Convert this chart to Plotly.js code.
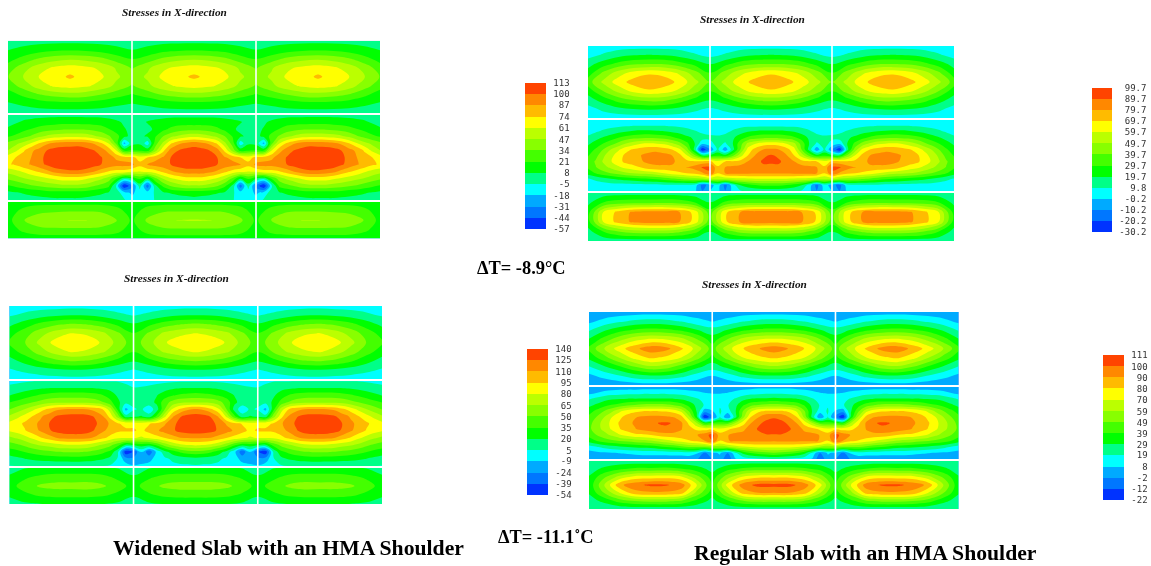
<!DOCTYPE html>
<html><head><meta charset="utf-8">
<script src="https://cdn.plot.ly/plotly-3.0.1.min.js"></script>
<style>html,body{margin:0;padding:0;background:#fff}#plot{width:1151px;height:566px;filter:blur(0.35px)}#plot .contourlayer{filter:blur(0.6px)}</style>
</head><body><div id="plot"></div>
<script>
// Band colours, lowest to highest
const bandColors=['#0033ff','#0077ff','#00aaff','#00ffff','#00ff88','#00ff00','#44ff00','#88ff00','#bbff00','#ffff00','#ffbb00','#ff8800','#ff4400'];

// Colour-bar levels (stress)
const p1Levels=[-57,-44,-31,-18,-5,8,21,34,47,61,74,87,100,113];
const p2Levels=[-30.2,-20.2,-10.2,-0.2,9.8,19.7,29.7,39.7,49.7,59.7,69.7,79.7,89.7,99.7];
const p3Levels=[-54,-39,-24,-9,5,20,35,50,65,80,95,110,125,140];
const p4Levels=[-22,-12,-2,8,19,29,39,49,59,70,80,90,100,111];

// Stress: outer edge to centre of the panel (the panel mirrors about its centre)
const p1Top=[
[3,4,4,4,4,4,4,4,3,4,4,4,4],
[8,11,15,18,19,18,15,11,8,11,16,18,19],
[16,26,36,42,45,43,38,28,21,27,37,43,45],
[28,42,55,63,67,64,58,46,33,45,58,64,67],
[34,48,61,68,76,68,63,50,40,50,64,70,76],
[27,40,54,63,66,63,56,44,33,44,56,63,66],
[14,24,33,39,42,40,34,26,20,26,35,40,42],
[7,10,13,15,16,15,13,10,8,10,13,15,16],
[3,3,3,3,3,3,3,3,3,3,3,3,3]];
const p1Mid=[
[3,4,4,4,4,5,5,5,5,5,5,5,5,4,4,4,4,4,4,4,5,5,5,5,5],
[5,7,10,12,14,15,16,17,17,17,16,16,15,13,10,7,5,6,9,11,12,14,15,15,15],
[10,14,18,22,26,29,31,33,33,33,33,31,28,22,15,9,6,5,6,10,18,24,28,30,30],
[20,24,30,36,44,50,54,56,57,57,55,50,44,36,26,12,4,6,10,20,34,44,50,55,57],
[38,44,52,62,74,84,90,92,93,94,92,86,76,60,30,-22,4,6,-12,28,50,72,84,90,93],
[48,58,72,84,92,100,105,107,107,108,105,101,94,82,60,18,22,20,16,42,70,92,100,104,106],
[68,74,80,87,96,103,109,112,112,112,111,106,101,93,84,80,78,68,74,82,88,100,107,111,112],
[72,76,83,88,95,102,109,111,111,111,110,105,100,96,92,92,90,78,88,92,95,100,106,108,108],
[52,56,62,69,75,82,90,94,97,97,94,88,80,72,68,68,62,60,64,68,76,84,90,94,94],
[36,40,46,50,54,58,62,66,66,66,62,56,50,40,22,-2,8,22,6,30,48,58,64,68,68],
[20,24,28,33,36,40,42,44,44,44,42,36,30,24,-8,-57,-35,2,-38,5,24,36,42,46,46],
[5,7,9,11,12,14,15,15,15,15,14,12,10,7,2,-12,-20,-12,-12,-3,6,9,11,12,13],
[3,3,4,4,5,5,6,6,6,6,5,4,3,2,1,-3,-14,-14,-9,-4,0,2,3,4,5]];
const p1Bottom=[
[10,14,16,16,16,16,16,15,10,15,16,16,16],
[14,26,31,33,34,34,33,27,15,28,33,34,34],
[17,34,43,46,48,48,45,36,19,37,46,48,49],
[14,25,31,32,32,32,31,27,15,28,32,33,33],
[10,13,15,15,15,15,15,14,10,14,15,15,15]];

const p2Top=[
[3,4,5,5,5,5,5,4,3,4,5,5,5],
[6,11,16,19,20,19,16,11,7,11,16,19,20],
[16,25,33,38,40,39,34,27,19,27,35,39,40],
[24,42,55,64,68,66,58,44,30,44,57,65,68],
[35,52,65,74,78,75,67,53,40,53,66,73,78],
[24,40,53,63,68,65,57,44,30,44,56,65,68],
[15,24,34,40,43,42,35,26,20,26,35,41,43],
[6,12,17,20,21,20,17,12,8,12,17,20,21],
[3,4,4,4,4,4,4,4,3,4,4,4,4]];
const p2Mid=[
[3,3,3,4,4,4,4,4,4,4,4,4,4,4,4,3,3,3,3,3,4,4,4,4,4],
[3,4,6,7,8,9,10,10,10,10,10,9,8,7,5,4,3,3,4,5,7,8,8,8,8],
[6,9,12,15,18,20,22,23,23,22,21,19,17,14,11,8,7,6,7,12,16,20,22,23,23],
[12,16,21,25,30,34,37,38,39,38,36,32,27,22,18,14,12,12,15,18,26,32,35,38,38],
[18,24,30,36,43,50,56,60,61,60,58,52,44,32,20,2,6,14,8,20,36,53,60,65,66],
[24,31,40,50,58,67,71,74,76,77,74,70,62,44,16,-29,-10,12,-7,16,40,64,74,80,82],
[29,36,48,56,66,72,76,80,83,84,83,80,73,60,42,20,22,28,24,38,56,70,81,88,91],
[33,41,51,59,66,73,76,79,82,84,84,82,76,72,71,72,72,62,70,71,73,80,87,91,92],
[31,39,46,52,58,63,66,70,76,77,77,78,79,80,84,91,92,72,80,82,84,85,86,88,86],
[24,30,36,40,44,48,50,52,53,56,60,64,67,70,72,78,88,70,80,82,82,82,81,81,81],
[8,12,15,18,21,23,25,27,28,30,33,36,39,42,44,46,50,50,52,54,56,57,58,58,58],
[3,4,5,6,6,6,6,6,7,7,8,8,8,8,6,-14,-6,6,-14,6,20,26,30,32,32],
[1,1,2,2,2,2,2,2,2,2,2,2,2,2,2,-10,0,3,-10,3,9,11,12,13,13]];
const p2Bottom=[
[10,14,15,15,15,15,15,14,10,14,15,15,15],
[17,30,35,37,37,38,36,30,20,32,37,38,38],
[26,60,73,82,84,84,80,66,34,68,80,85,85],
[26,60,74,82,84,84,80,66,34,68,81,85,84],
[16,30,40,45,46,46,42,33,20,34,44,47,47],
[10,13,14,14,14,14,14,13,10,13,14,14,14]];

const p3Top=[
[-2,-2,-1,-1,0,0,-1,-2,-3,-2,-1,0,0],
[4,9,14,18,20,19,15,9,5,9,15,19,20],
[17,28,40,48,52,50,43,32,22,32,43,50,53],
[30,44,60,73,81,78,69,53,36,53,69,77,81],
[38,50,70,86,92,90,78,60,42,60,79,88,92],
[28,42,58,73,82,78,68,52,36,52,68,77,82],
[15,26,38,47,52,50,42,31,22,31,42,49,52],
[4,9,14,18,20,19,15,9,5,9,15,19,20],
[-3,-2,-1,0,1,1,0,-1,-3,-1,0,1,1]];
const p3Mid=[
[3,3,4,5,5,5,5,5,5,5,5,5,5,5,5,4,3,0,0,1,2,3,4,4,4],
[8,11,14,17,19,20,21,21,21,21,21,20,18,16,12,8,6,7,9,12,15,18,20,21,21],
[20,24,29,33,37,40,43,44,44,44,43,41,36,28,18,12,10,12,14,20,28,34,38,40,42],
[35,39,44,50,55,60,62,62,62,62,62,58,52,40,24,10,10,14,14,24,44,55,62,64,64],
[50,58,66,76,88,98,107,110,112,112,110,105,96,72,30,-14,4,8,-4,14,50,82,98,108,112],
[68,76,86,96,108,116,126,130,131,131,130,124,112,90,58,12,18,22,12,40,76,108,124,130,132],
[84,90,98,106,113,124,132,137,138,138,137,128,118,108,96,92,92,88,94,100,108,120,130,136,138],
[82,87,94,103,112,122,130,133,134,134,132,124,113,105,98,97,97,92,100,108,116,122,130,133,134],
[62,68,75,84,94,102,110,115,116,116,114,108,100,90,84,84,82,78,84,90,96,104,110,112,113],
[44,48,54,62,68,72,76,79,80,80,78,72,64,55,42,20,25,30,28,40,58,70,78,82,84],
[28,31,36,40,44,47,50,52,52,52,50,46,40,32,8,-50,-38,-8,-35,-5,15,28,38,44,46],
[14,17,20,23,25,26,27,27,28,28,27,25,22,16,4,-18,-20,-18,-14,-3,2,8,12,14,15],
[5,6,7,8,8,8,9,9,9,9,8,7,6,4,2,-2,-8,-6,-4,-2,0,2,3,3,4]];
const p3Bottom=[
[10,20,22,24,24,24,23,20,6,20,23,24,24],
[24,33,39,42,42,42,40,32,24,33,40,42,42],
[30,42,53,56,56,57,53,42,30,44,54,57,57],
[24,32,38,40,40,40,38,32,24,33,39,41,41],
[10,18,20,22,22,22,21,18,6,18,21,22,22]];

const p4Top=[
[0,1,2,3,3,3,3,2,1,2,3,3,3],
[6,12,17,21,23,22,18,12,8,12,18,22,23],
[18,28,36,41,43,42,38,30,24,30,38,42,43],
[30,44,57,67,72,70,64,50,34,50,64,70,72],
[42,60,76,88,97,94,82,66,45,66,80,90,97],
[32,46,61,74,82,78,70,54,36,54,70,78,82],
[18,28,38,50,58,55,44,32,24,32,44,54,58],
[6,12,18,25,28,27,22,14,8,14,22,27,28],
[0,1,2,3,4,4,3,2,1,2,3,4,4]];
const p4Mid=[
[1,1,2,2,3,3,3,4,4,4,4,4,3,3,3,2,1,2,3,4,5,5,6,6,6],
[6,9,12,14,15,16,16,17,17,17,17,16,15,13,11,9,8,8,9,11,13,15,16,17,17],
[18,22,26,28,29,30,30,30,30,30,30,30,28,24,20,16,14,14,15,20,26,30,31,31,32],
[26,31,36,40,43,47,50,52,53,53,52,49,44,36,26,18,16,18,18,26,38,46,50,52,53],
[35,42,50,58,68,75,78,80,80,80,79,76,67,48,28,4,8,20,14,28,50,68,78,81,81],
[42,50,60,70,78,85,90,92,93,93,92,90,84,62,32,-21,-5,19,-1,25,56,80,90,98,100],
[46,55,65,73,82,88,92,96,98,101,102,100,92,78,60,36,40,42,44,60,76,90,99,103,104],
[47,56,63,72,80,85,90,94,97,99,99,96,91,84,78,76,78,72,78,84,88,96,102,106,106],
[43,50,56,62,69,74,78,78,80,84,86,87,88,88,90,96,105,85,90,94,94,96,98,100,100],
[33,39,44,47,50,52,54,56,58,62,66,70,74,79,82,90,100,80,90,92,92,92,92,92,91],
[14,18,22,25,27,29,31,32,33,36,39,42,46,50,50,50,55,55,58,64,68,70,72,72,72],
[5,6,7,8,9,10,11,12,12,12,12,13,13,14,10,-4,6,10,-2,16,32,40,44,47,49],
[1,2,2,2,3,3,3,3,3,3,3,3,3,3,0,-10,-1,5,-10,8,12,15,17,18,19]];
const p4Bottom=[
[20,21,22,22,22,22,22,21,20,21,22,22,22],
[24,32,38,42,42,43,40,34,26,36,42,44,44],
[30,48,64,74,75,76,72,54,34,56,72,78,78],
[32,60,88,98,103,102,96,70,38,74,96,104,104],
[30,50,70,86,88,88,84,56,34,60,84,90,90],
[24,32,44,50,52,52,48,36,26,38,49,53,53],
[20,20,21,22,22,22,22,21,20,21,22,22,22]];

// Text
const panelTitle='Stresses in X-direction';
const captions=[
 {text:'Widened Slab with an HMA Shoulder',x:288,y:548,size:21.7},
 {text:'Regular Slab with an HMA Shoulder',x:865.5,y:553,size:21.7},
 {text:'ΔT= -8.9°C',x:521.5,y:268,size:18.4},
 {text:'ΔT= -11.1˚C',x:545.5,y:537,size:18.4}];

// Layout of the four panels, in page pixels
const W=1151,H=566;
const panels=[
 {levels:p1Levels,top:p1Top,mid:p1Mid,bot:p1Bottom,x0:8,x1:380,rows:[[40.7,113],[115,200],[202,238.5]],bar:{x:525,y:83,h:146,w:21},titleX:174.5,titleY:12,labelW:3},
 {levels:p2Levels,top:p2Top,mid:p2Mid,bot:p2Bottom,x0:588,x1:954,rows:[[46,118],[120,191],[193,241]],bar:{x:1092,y:88,h:144,w:20},titleX:752,titleY:19,labelW:5},
 {levels:p3Levels,top:p3Top,mid:p3Mid,bot:p3Bottom,x0:9.3,x1:382,rows:[[306,379],[381,466],[468,504]],bar:{x:527,y:349,h:146,w:21},titleX:176,titleY:278,labelW:3},
 {levels:p4Levels,top:p4Top,mid:p4Mid,bot:p4Bottom,x0:589,x1:958.7,rows:[[312,385],[387,459],[461,509]],bar:{x:1103,y:355,h:145,w:21},titleX:754,titleY:284,labelW:3}];

const mirror=rows=>rows.map(r=>r.concat(r.slice(0,-1).reverse()));
const stepScale=[];
bandColors.forEach((c,i)=>{stepScale.push([i/13,c]);stepScale.push([(i+1)/13,c]);});

const traces=[],layout={width:W,height:H,margin:{l:0,r:0,t:0,b:0,autoexpand:false},paper_bgcolor:'#fff',plot_bgcolor:'#fff',showlegend:false,shapes:[],annotations:[]};

panels.forEach((p,i)=>{
 const n=i+1,ax=n===1?'':String(n);
 const yTop=p.rows[0][0],yBot=p.rows[2][1];
 layout['xaxis'+ax]={domain:[p.x0/W,p.x1/W],range:[0,3],autorange:false,visible:false,fixedrange:true,anchor:'y'+ax};
 layout['yaxis'+ax]={domain:[1-yBot/H,1-yTop/H],range:[yBot,yTop],autorange:false,visible:false,fixedrange:true,anchor:'x'+ax};
 [p.top,p.mid,p.bot].forEach((half,k)=>{
  const z=mirror(half),nc=z[0].length,nr=z.length,[a,b]=p.rows[k];
  const tr={type:'contour',xaxis:'x'+ax,yaxis:'y'+ax,z,
   x:Array.from({length:nc},(_,j)=>3*j/(nc-1)),
   y:Array.from({length:nr},(_,j)=>a+(b-a)*j/(nr-1)),
   autocontour:false,
   contours:{start:p.levels[0],end:p.levels[13],size:(p.levels[13]-p.levels[0])/13,coloring:'fill',showlines:false},
   line:{width:0,smoothing:1},
   zauto:false,zmin:p.levels[0],zmax:p.levels[13],colorscale:stepScale,showscale:false,hoverinfo:'skip'};
  if(k===0){
   tr.showscale=true;
   tr.colorbar={x:p.bar.x/W,xanchor:'left',xpad:0,y:1-p.bar.y/H,yanchor:'top',ypad:0,yref:'paper',
    len:p.bar.h,lenmode:'pixels',thickness:p.bar.w,thicknessmode:'pixels',outlinewidth:0,borderwidth:0,
    tickmode:'array',tickvals:p.levels,ticktext:p.levels.map(v=>String(v).padStart(p.labelW,'\u00A0')),
    ticks:'outside',ticklen:6,tickcolor:'rgba(255,255,255,0)',tickfont:{family:'DejaVu Sans Mono',size:9,color:'#333'}};
  }
  traces.push(tr);
 });
 [1,2].forEach(v=>layout.shapes.push({type:'line',xref:'x'+ax,yref:'y'+ax+' domain',x0:v,x1:v,y0:0,y1:1,line:{color:'#fff',width:1.6}}));
 layout.annotations.push({xref:'paper',yref:'paper',x:p.titleX/W,y:1-p.titleY/H,xanchor:'center',yanchor:'middle',showarrow:false,
  text:'<b><i>'+panelTitle+'</i></b>',font:{family:'Liberation Serif',size:11.3,color:'#111'}});
});
captions.forEach(c=>layout.annotations.push({xref:'paper',yref:'paper',x:c.x/W,y:1-c.y/H,xanchor:'center',yanchor:'middle',showarrow:false,
 text:'<b>'+c.text+'</b>',font:{family:'Liberation Serif',size:c.size,color:'#000'}}));

Plotly.newPlot('plot',traces,layout,{displayModeBar:false,staticPlot:true});
</script></body></html>
